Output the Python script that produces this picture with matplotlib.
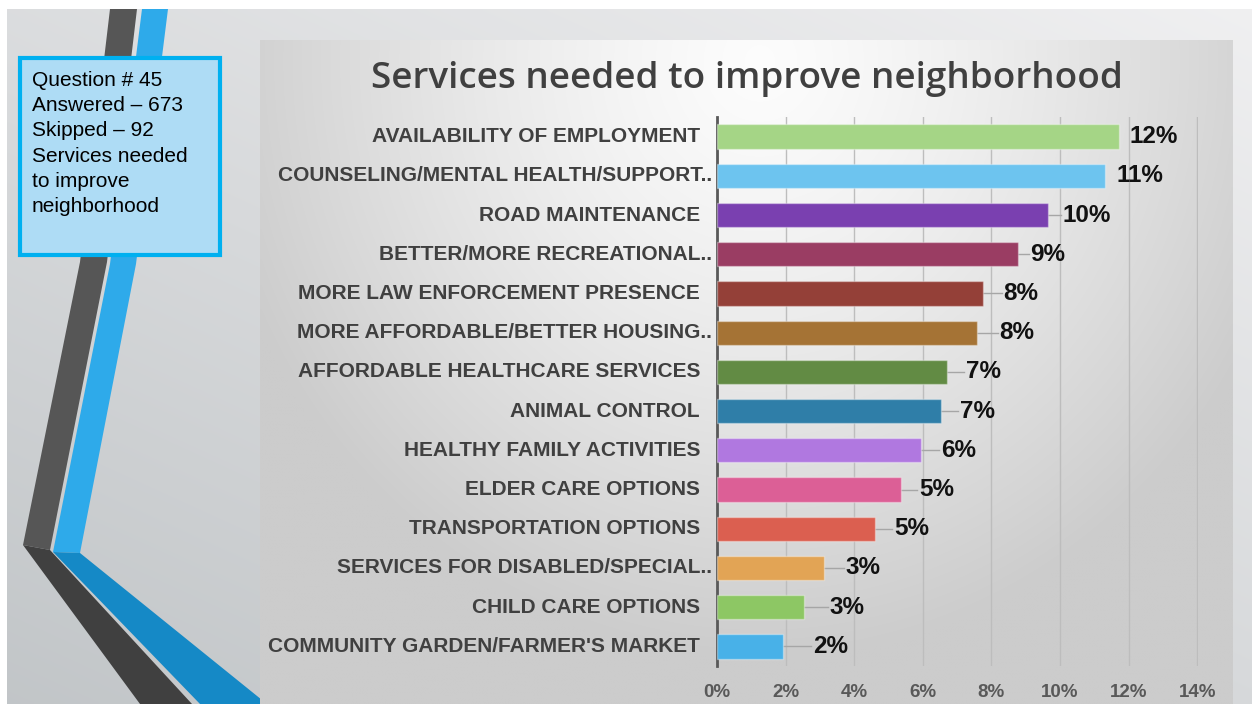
import numpy as np
import matplotlib
matplotlib.use("Agg")
import matplotlib.pyplot as plt
from matplotlib.patches import Polygon, Rectangle

############################ Dados do gráfico ############################

categories = [
    "AVAILABILITY OF EMPLOYMENT",
    "COUNSELING/MENTAL HEALTH/SUPPORT..",
    "ROAD MAINTENANCE",
    "BETTER/MORE RECREATIONAL..",
    "MORE LAW ENFORCEMENT PRESENCE",
    "MORE AFFORDABLE/BETTER HOUSING..",
    "AFFORDABLE HEALTHCARE SERVICES",
    "ANIMAL CONTROL",
    "HEALTHY FAMILY ACTIVITIES",
    "ELDER CARE OPTIONS",
    "TRANSPORTATION OPTIONS",
    "SERVICES FOR DISABLED/SPECIAL..",
    "CHILD CARE OPTIONS",
    "COMMUNITY GARDEN/FARMER'S MARKET",
]
values = [11.73, 11.3, 9.64, 8.76, 7.74, 7.57, 6.70, 6.52, 5.94, 5.36, 4.60, 3.11, 2.53, 1.92]
value_labels = ["12%", "11%", "10%", "9%", "8%", "8%", "7%", "7%", "6%", "5%", "5%", "3%", "3%", "2%"]
xticks = [0, 2, 4, 6, 8, 10, 12, 14]
xtick_labels = ["0%", "2%", "4%", "6%", "8%", "10%", "12%", "14%"]

title = "Services needed to improve neighborhood"
box_lines = ["Question # 45", "Answered \u2013 673", "Skipped \u2013 92",
             "Services needed", "to improve", "neighborhood"]

############################ Estilo ############################

bar_colors = ["#a5d586", "#6dc4ef", "#7a40b0", "#9a3d63", "#944038", "#a57335", "#628b44",
              "#2f7ea8", "#b078e0", "#dc5f96", "#db5f50", "#e2a455", "#8dc764", "#48b1e8"]
# distancia (px) entre o fim da barra e o rotulo
label_gap = [10, 12, 15, 13, 21, 23, 19, 19, 20, 18, 19, 22, 26, 30]

W, H = 1252, 704
PX = 34.36  # pixels por 1%

fig = plt.figure(figsize=(W / 100, H / 100), dpi=100, facecolor="white")

############################ Fundo do slide ############################

bg = fig.add_axes([0, 0, 1, 1])
bg.set_xlim(0, W)
bg.set_ylim(H, 0)
bg.axis("off")

yy, xx = np.mgrid[0:1:200j, 0:1:300j]
t = np.clip(0.55 * yy + 0.45 * (1 - xx), 0, 1)
c0 = np.array([0.94, 0.94, 0.945])
c1 = np.array([0.76, 0.775, 0.785])
img = c0 * (1 - t[..., None]) + c1 * t[..., None]
bg.imshow(img, extent=(7, W, H, 9), aspect="auto", zorder=0, interpolation="bilinear")

# faixas decorativas
bg.add_patch(Polygon([(110, 9), (137, 9), (107, 262), (50, 550), (23, 545), (80, 262)],
                     closed=True, color="#565656", lw=0, zorder=1))
bg.add_patch(Polygon([(23, 545), (50, 550), (192, 704), (140, 704)],
                     closed=True, color="#404040", lw=0, zorder=1))
bg.add_patch(Polygon([(142, 9), (168, 9), (136, 264), (80, 553), (53, 552), (110, 264)],
                     closed=True, color="#2eaaea", lw=0, zorder=1))
bg.add_patch(Polygon([(53, 552), (80, 553), (262, 700), (262, 704), (200, 704)],
                     closed=True, color="#1589c6", lw=0, zorder=1))

# caixa da pergunta
bg.add_patch(Rectangle((20, 58), 200, 197, facecolor="#aedcf5", edgecolor="#00b0f0",
                       lw=3, zorder=2))
for i, line in enumerate(box_lines):
    bg.text(32, 80 + i * 25.4, line, fontsize=15, family="Liberation Sans",
            color="black", va="center", ha="left", zorder=3)

# painel do grafico
yy, xx = np.mgrid[40:704:200j, 260:1233:300j]
r = np.sqrt(((xx - 760) / 560) ** 2 + ((yy - 60) / 600) ** 2)
r = np.clip(r, 0, 1) ** 1.3
p0 = np.array([0.99, 0.99, 0.99])
p1 = np.array([0.80, 0.80, 0.80])
pimg = p0 * (1 - r[..., None]) + p1 * r[..., None]
bg.imshow(pimg, extent=(260, 1233, 704, 40), aspect="auto", zorder=4, interpolation="bilinear")

bg.text(747, 79, title, fontsize=26.6, family="Open Sans", fontweight="semibold",
        color="#404040", ha="center", va="center", zorder=5)

############################ Gráfico de barras ############################

x0, x14 = 717, 717 + 14 * PX
ytop, ybot = 117, 666
ax = fig.add_axes([x0 / W, 1 - ybot / H, (x14 - x0) / W, (ybot - ytop) / H])
ax.set_facecolor("none")
ax.set_zorder(5)

n = len(categories)
ypos = np.arange(n)
ax.barh(ypos, values, height=0.62, color=bar_colors, edgecolor=(1, 1, 1, 0.35),
        linewidth=1, zorder=3)

ax.set_xlim(0, 14.02)
ax.set_ylim(n - 0.5, -0.5)
ax.set_xticks(xticks)
ax.set_xticklabels(xtick_labels, fontsize=13.5, family="Liberation Sans",
                   fontweight="bold", color="#595959")
ax.tick_params(axis="x", length=0, pad=13)
ax.set_yticks([])
ax.grid(axis="x", color="#bdbdbd", lw=1, zorder=0)
for s in ["top", "right", "bottom"]:
    ax.spines[s].set_visible(False)
ax.spines["left"].set_color("#595959")
ax.spines["left"].set_linewidth(2)

for i, name in enumerate(categories):
    pad = 5 if name.endswith("..") else 17
    ax.text(-pad / PX, i, name, ha="right", va="center", fontsize=15,
            family="Liberation Sans", fontweight="bold", color="#404040", clip_on=False)

for i, (v, lab) in enumerate(zip(values, value_labels)):
    g = label_gap[i] / PX
    if label_gap[i] > 12:
        ax.plot([v, v + g - 2 / PX], [i, i], color="#a6a6a6", lw=1, zorder=2, clip_on=False)
    ax.text(v + g, i, lab, ha="left", va="center", fontsize=17.5, family="Liberation Sans",
            fontweight="bold", color="#111111", clip_on=False)

fig.savefig("out.png", dpi=100, facecolor="white")
